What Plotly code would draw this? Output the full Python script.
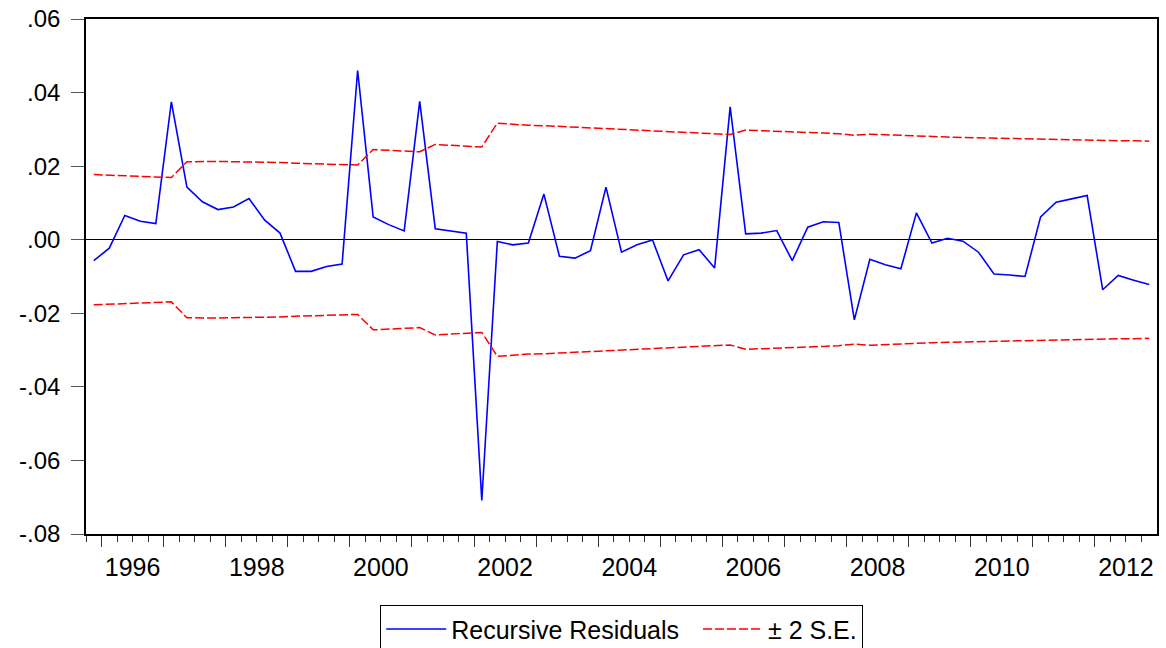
import plotly.graph_objects as go

# Quarterly observations 1995Q4 .. 2012Q4
start_year = 1995
start_quarter = 4
n_obs = 69

recursive_residuals = [
    -0.0057, -0.0023, 0.0066, 0.0050, 0.0044, 0.0375, 0.0143, 0.0103, 0.0082,
    0.0089, 0.0112, 0.0054, 0.0018, -0.0086, -0.0086, -0.0073, -0.0066,
    0.0460, 0.0062, 0.0041, 0.0024, 0.0376, 0.0030, 0.0025, 0.0018,
    -0.0709, -0.0005, -0.0014, -0.0009, 0.0124, -0.0045, -0.0050, -0.0030,
    0.0143, -0.0034, -0.0014, -0.0001, -0.0112, -0.0041, -0.0027, -0.0077,
    0.0361, 0.0016, 0.0018, 0.0025, -0.0057, 0.0034, 0.0049, 0.0047,
    -0.0218, -0.0053, -0.0068, -0.0079, 0.0073, -0.0009, 0.0004, -0.0004,
    -0.0034, -0.0093, -0.0096, -0.0100, 0.0062, 0.0102, 0.0111, 0.0120,
    -0.0136, -0.0097, -0.0110, -0.0122,
]

two_se = [
    0.0177, 0.0175, 0.0173, 0.0172, 0.0171, 0.0169, 0.0212, 0.0213, 0.0213,
    0.0212, 0.0212, 0.0211, 0.0210, 0.0208, 0.0207, 0.0206, 0.0205,
    0.0203, 0.0245, 0.0243, 0.0241, 0.0239, 0.0259, 0.0256, 0.0254,
    0.0252, 0.0317, 0.0313, 0.0311, 0.0310, 0.0308, 0.0306, 0.0304,
    0.0302, 0.0300, 0.0298, 0.0296, 0.0294, 0.0292, 0.0290, 0.0288,
    0.0286, 0.0298, 0.0296, 0.0294, 0.0293, 0.0291, 0.0290, 0.0288,
    0.0284, 0.0287, 0.0285, 0.0283, 0.0281, 0.0280, 0.0279, 0.0278,
    0.0277, 0.0276, 0.0275, 0.0274, 0.0273, 0.0272, 0.0271, 0.0270,
    0.0270, 0.0269, 0.0269, 0.0268,
]

year_ticks = list(range(1996, 2013))
label_years = [1996, 1998, 2000, 2002, 2004, 2006, 2008, 2010, 2012]
y_tick_vals = [0.06, 0.04, 0.02, 0.00, -0.02, -0.04, -0.06, -0.08]
y_tick_text = [".06", ".04", ".02", ".00", "-.02", "-.04", "-.06", "-.08"]

# x position of each quarter = middle of the quarter
x = []
for i in range(n_obs):
    q = start_quarter - 1 + i
    yr = start_year + q // 4
    qq = q % 4
    x.append(yr + qq / 4 + 0.125)

x_min = start_year + (start_quarter - 1) / 4
x_max = x[-1] + 0.125
quarter_ticks = [x_min + k * 0.25 for k in range(int(round((x_max - x_min) * 4)) + 1)]
quarter_ticks = [t for t in quarter_ticks if abs(t - round(t)) > 1e-9]

FONT = "Liberation Sans, Arial, sans-serif"
NB = "\u00a0"

fig = go.Figure()
fig.add_trace(go.Scatter(
    x=x, y=recursive_residuals, mode="lines", name="Recursive Residuals" + NB * 2,
    line=dict(color="#0000ff", width=1.6),
))
fig.add_trace(go.Scatter(
    x=x, y=two_se, mode="lines", name="\u00b1 2 S.E.",
    line=dict(color="#ff0000", width=1.5, dash="9px,3px"),
))
fig.add_trace(go.Scatter(
    x=x, y=[-v for v in two_se], mode="lines", name="\u00b1 2 S.E.",
    showlegend=False,
    line=dict(color="#ff0000", width=1.5, dash="9px,3px"),
))
# invisible trace on the label axis so it renders
fig.add_trace(go.Scatter(x=[x_min], y=[0], xaxis="x2", mode="markers",
                         marker=dict(opacity=0), showlegend=False, hoverinfo="skip"))

fig.update_layout(
    width=1166, height=648,
    margin=dict(l=86, r=9, t=19, b=114, autoexpand=False),
    paper_bgcolor="white", plot_bgcolor="white",
    font=dict(family=FONT, size=24, color="black"),
    showlegend=True,
    legend=dict(
        orientation="h", x=0.5, xanchor="center", y=-0.1379, yanchor="top",
        bordercolor="black", borderwidth=1.2, bgcolor="white",
        font=dict(family=FONT, size=25, color="black"),
        itemwidth=60, tracegroupgap=0,
    ),
    xaxis=dict(
        range=[x_min, x_max], tickmode="array", tickvals=year_ticks,
        showticklabels=False, ticks="outside", ticklen=11, tickwidth=1.3,
        tickcolor="#333333",
        minor=dict(tickmode="array", tickvals=quarter_ticks, ticks="outside",
                   ticklen=6, tickwidth=1, tickcolor="#333333", showgrid=False),
        showline=True, linecolor="black", linewidth=1.5, mirror=True,
        showgrid=False, zeroline=False,
    ),
    xaxis2=dict(
        range=[x_min, x_max], overlaying="x", anchor="y", side="bottom",
        tickmode="array", tickvals=[yv + 0.5 for yv in label_years],
        ticktext=[str(yv) for yv in label_years],
        ticks="outside", ticklen=11, tickcolor="rgba(0,0,0,0)",
        showline=False, showgrid=False, zeroline=False,
        tickfont=dict(family=FONT, size=25, color="black"),
    ),
    yaxis=dict(
        range=[-0.08, 0.06], tickmode="array", tickvals=y_tick_vals,
        ticktext=y_tick_text, ticks="outside", ticklen=13, tickwidth=1.3,
        tickcolor="#555555", showline=True, linecolor="black", linewidth=1.5,
        mirror=True, showgrid=False, zeroline=True, zerolinecolor="black",
        zerolinewidth=1, tickfont=dict(family=FONT, size=24, color="black"),
        ticklabelstandoff=6,
    ),
)

fig.write_html(
    "out.html",
    config={"displayModeBar": False},
    post_script="document.body.style.margin='0';document.body.style.overflow='hidden';",
)
